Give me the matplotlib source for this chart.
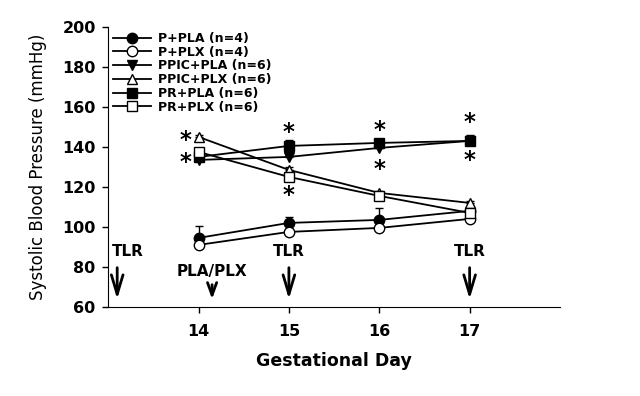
import matplotlib
matplotlib.use("Agg")
import matplotlib.pyplot as plt
import numpy as np

plt.rcParams['font.family'] = ['DejaVu Sans']

days = [14, 15, 16, 17]
series_names = ["P+PLA (n=4)", "P+PLX (n=4)", "PPIC+PLA (n=6)",
                "PPIC+PLX (n=6)", "PR+PLA (n=6)", "PR+PLX (n=6)"]
p_pla = [94.5, 102, 103.5, 108]
p_plx = [91, 97.5, 99.5, 104]
ppic_pla = [133.5, 135, 139.5, 143]
ppic_plx = [145, 128.5, 117, 112]
pr_pla = [135, 140.5, 142, 143]
pr_plx = [137.5, 125, 115.5, 107]
p_pla_err = [6, 3, 6, 2]
p_plx_err = [1, 1, 1, 1]
ppic_pla_err = [1, 1, 1, 1]
ppic_plx_err = [1, 1.5, 1, 1]
pr_pla_err = [1, 3, 2, 3]
pr_plx_err = [1.5, 1.5, 1.5, 1]

star_x = [13.86, 13.86, 15, 15, 16, 16, 17, 17]
star_y = [144.5, 133.5, 148.5, 117, 149.5, 130, 153.5, 134.5]

arrow_labels = ["TLR", "PLA/PLX", "TLR", "TLR"]
arrow_x = [13.1, 14.15, 15, 17]
arrow_text_x = [13.22, 14.15, 15, 17]

fig = plt.figure(figsize=(6.4, 3.96), dpi=100)
ax = fig.add_axes([0.169, 0.225, 0.706, 0.707])

data = [p_pla, p_plx, ppic_pla, ppic_plx, pr_pla, pr_plx]
errs = [p_pla_err, p_plx_err, ppic_pla_err, ppic_plx_err, pr_pla_err, pr_plx_err]
markers = ['o', 'o', 'v', '^', 's', 's']
fills = ['black', 'white', 'black', 'white', 'black', 'white']

for vals, err, m, fc, name in zip(data, errs, markers, fills, series_names):
    ax.errorbar(days, vals, yerr=[np.zeros(len(err)), err], fmt='none',
                ecolor='black', elinewidth=1, capsize=3, capthick=1, zorder=2)
    ax.plot(days, vals, color='black', lw=1.3, marker=m, markersize=7.5,
            markerfacecolor=fc, markeredgecolor='black', markeredgewidth=1,
            label=name, zorder=3)

for sx, sy in zip(star_x, star_y):
    ax.text(sx, sy - 1.2, '*', fontsize=16.5, fontweight='bold', ha='center',
            va='center', color='black')

# arrows
for lab, a_x, t_x in zip(arrow_labels, arrow_x, arrow_text_x):
    if lab == "TLR":
        ax.annotate('', xy=(a_x, 62.5), xytext=(a_x, 81),
                    arrowprops=dict(arrowstyle='->,head_length=1.4,head_width=0.42',
                                    color='black', lw=2))
        ax.text(t_x, 87.5, lab, fontsize=11, fontweight='bold', ha='center', va='center')
    else:
        ax.annotate('', xy=(a_x, 62.5), xytext=(a_x, 72.5),
                    arrowprops=dict(arrowstyle='->,head_length=0.9,head_width=0.33',
                                    color='black', lw=2))
        ax.text(t_x, 77.5, lab, fontsize=11, fontweight='bold', ha='center', va='center')

ax.set_xlim(13, 18)
ax.set_ylim(60, 200)
ax.set_xticks(days)
ax.set_yticks(np.arange(60, 201, 20))
ax.tick_params(axis='both', direction='out', length=4, width=1, labelsize=11.5)
for lbl in ax.get_xticklabels() + ax.get_yticklabels():
    lbl.set_fontweight('bold')
ax.tick_params(axis='x', pad=8)
ax.tick_params(axis='y', pad=5)
ax.spines['top'].set_visible(False)
ax.spines['right'].set_visible(False)
ax.set_xlabel('Gestational Day', fontsize=12.5, fontweight='bold', labelpad=10)
ax.set_ylabel('Systolic Blood Pressure (mmHg)', fontsize=12, labelpad=11)

leg = ax.legend(loc='upper left', frameon=False, fontsize=9, handlelength=3.0,
                labelspacing=0.06, borderaxespad=0.0, handletextpad=0.6,
                bbox_to_anchor=(0.0, 1.0))
for t in leg.get_texts():
    t.set_fontweight('bold')

fig.savefig('out.png', dpi=100)
